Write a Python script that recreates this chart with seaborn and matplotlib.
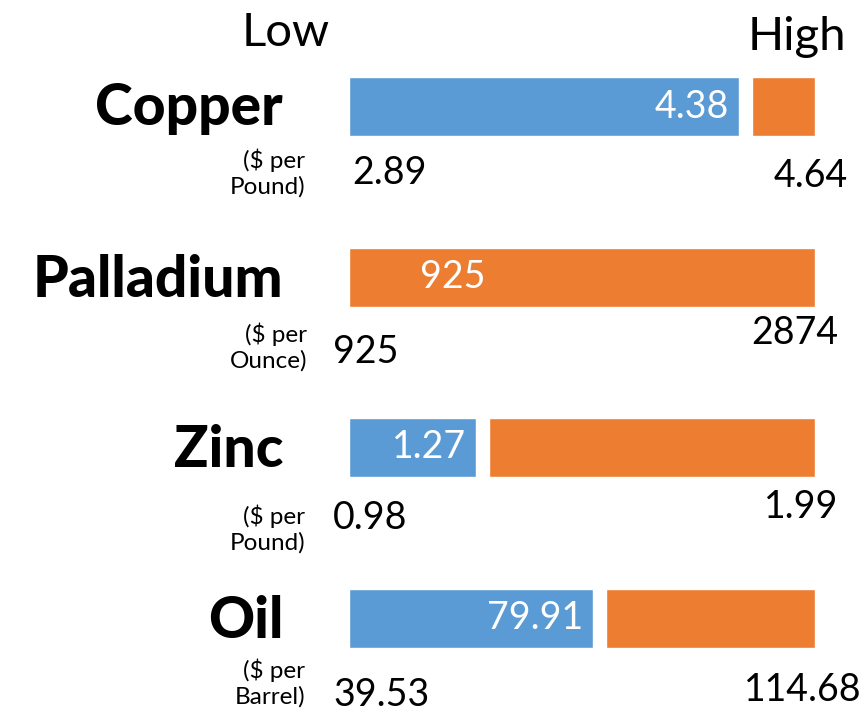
import matplotlib
matplotlib.use("Agg")
import matplotlib.pyplot as plt
import numpy as np
import pandas as pd
import seaborn as sns

# data
commodities = ["Copper", "Palladium", "Zinc", "Oil"]
units = ["($ per\nPound)", "($ per\nOunce)", "($ per\nPound)", "($ per\nBarrel)"]
low_vals = [2.89, 925, 0.98, 39.53]
current_vals = [4.38, 925, 1.27, 79.91]
high_vals = [4.64, 2874, 1.99, 114.68]
low_labels = ["2.89", "925", "0.98", "39.53"]
current_labels = ["4.38", "925", "1.27", "79.91"]
high_labels = ["4.64", "2874", "1.99", "114.68"]

BLUE = "#5B9BD5"
ORANGE = "#ED7D31"
W, H = 868, 713
FONT = ["Lato", "DejaVu Sans"]

sns.set_theme(style="white")
plt.rcParams["font.family"] = FONT
plt.rcParams["text.color"] = "black"

df = pd.DataFrame({
    "name": commodities,
    "low": low_vals,
    "cur": current_vals,
    "high": high_vals,
})
df["frac"] = (df["cur"] - df["low"]) / (df["high"] - df["low"])

gap = 13 / 466
bar_h = 59 / 170.5
df["blue_w"] = np.clip(df["frac"] - gap / 2, 0, None)
df["orange_left"] = np.where(df["frac"] > 0, df["frac"] + gap / 2, 0)

fig = plt.figure(figsize=(W / 100, H / 100), dpi=100)

# bar area in pixels: x 349..815, category centers 106.5 + 170.5*i
ax = fig.add_axes([349 / W, (H - 703.25) / H, 466 / W, 682 / H])
sns.barplot(data=df, x="blue_w", y="name", orient="h", color=BLUE,
            width=bar_h, saturation=1, ax=ax)
ax.barh(np.arange(len(df)), 1 - df["orange_left"], left=df["orange_left"],
        height=bar_h, color=ORANGE)
ax.set_xlim(0, 1)
ax.set_ylim(len(df) - 0.5, -0.5)
ax.axis("off")

for i, row in df.iterrows():
    if row["blue_w"] > 0:
        ax.annotate(current_labels[i], (row["blue_w"], i), xytext=(-10, 0),
                    textcoords="offset pixels", ha="right", va="center",
                    color="white", fontsize=27)
    else:
        ax.annotate(current_labels[i], (0, i), xytext=(104, 0),
                    textcoords="offset pixels", ha="center", va="center",
                    color="white", fontsize=27)

# text overlay in pixel coordinates
tx = fig.add_axes([0, 0, 1, 1])
tx.set_xlim(0, W)
tx.set_ylim(H, 0)
tx.axis("off")

tx.text(330, 33, "Low", ha="right", va="center", fontsize=34)
tx.text(846, 37, "High", ha="right", va="center", fontsize=34)

title_base = [125, 297, 467, 638]
unit_pos = [(305, 173), (307, 347), (305, 529), (305, 683)]
low_pos = [(352, 173), (333, 352), (333, 518), (333, 695)]
high_pos = [(848, 176), (838, 333), (838, 507), (862, 690)]

for i, name in enumerate(commodities):
    tx.text(283, title_base[i], name, ha="right", va="baseline",
            fontsize=41, fontweight="black")
    tx.text(*unit_pos[i], units[i], ha="right", va="center", fontsize=17.5,
            linespacing=1.2)
    tx.text(*low_pos[i], low_labels[i], ha="left", va="center", fontsize=27)
    tx.text(*high_pos[i], high_labels[i], ha="right", va="center", fontsize=27)

fig.savefig("out.png", dpi=100)
